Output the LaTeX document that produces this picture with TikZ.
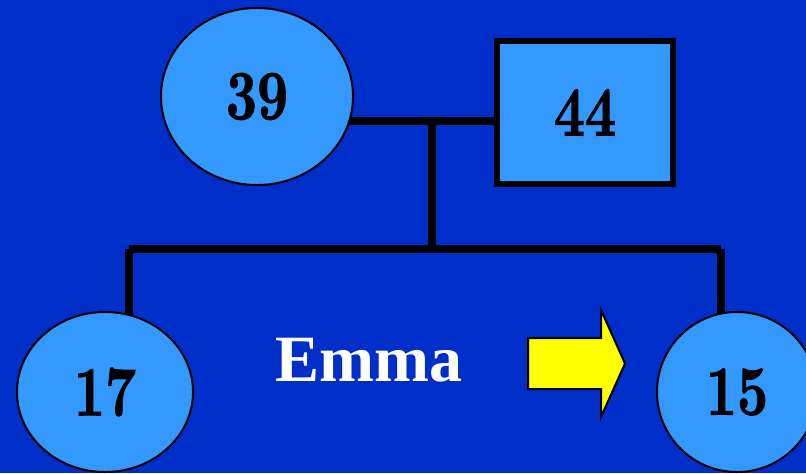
\documentclass[tikz,border=0pt]{standalone}
\usepackage{fontspec}
\usepackage{tikz}
\usetikzlibrary{shapes.geometric}
\usepackage{xcolor}
\newfontfamily\namefont{Liberation Serif}
\newfontfamily\agefont{lmroman10-bold}[Extension=.otf,FakeBold=1.5]

\definecolor{slideblue}{RGB}{0,46,200}
\definecolor{personblue}{RGB}{51,153,255}
\definecolor{pointyellow}{RGB}{255,255,0}

\pgfdeclarelayer{backdrop}
\pgfdeclarelayer{links}
\pgfsetlayers{backdrop,links,main}

\newcommand{\age}[1]{\scalebox{0.77}[1]{\fontsize{50}{50}\agefont #1}}

\begin{document}
\begin{tikzpicture}[x=0.025cm,y=-0.025cm,line cap=butt,
  female/.style={ellipse,draw=black,line width=0.05cm,fill=personblue,inner sep=0pt},
  male/.style={rectangle,draw=black,line width=0.15cm,fill=personblue,inner sep=0pt},
  link/.style={draw=black,line width=0.2cm}]
\useasboundingbox (0,0) rectangle (806,473);
\begin{pgfonlayer}{backdrop}
\fill[slideblue] (0,0) rectangle (806,473);
\end{pgfonlayer}
\clip (0,0) rectangle (806,473);

% parents
\node[female,minimum width=4.8cm,minimum height=4.425cm] (mother) at (257,96.5) {\age{39}};
\node[male,minimum width=4.4cm,minimum height=3.575cm] (father) at (585,112.5) {\age{44}};
% children
\node[female,minimum width=4.4cm,minimum height=4cm] (sister) at (105,392) {\age{17}};
\node[female,minimum width=4cm,minimum height=4cm] (emma) at (737,392) {\age{15}};

\coordinate (couple) at (432,121);
\coordinate (sibs) at (432,249);
\coordinate (sibL) at (129,249);
\coordinate (sibR) at (721,249);

\begin{pgfonlayer}{links}
\draw[link] (mother.center |- couple) -- (father.center |- couple);
\draw[link] (couple) -- (sibs);
\draw[link] (sibL) -- (sibR);
\draw[link] (sibL) -- (sibL |- sister.center);
\draw[link] (sibR) -- (sibR |- emma.center);
\end{pgfonlayer}

\node[anchor=base,text=white,inner sep=0pt] (name) at (369,381) {\fontsize{47}{47}\selectfont\namefont\bfseries Emma};

% pointer to Emma
\draw[fill=pointyellow,line width=0.05cm,line join=miter]
  (528,338) -- (601,338) -- (601,310) -- (625,363.5) -- (601,417) -- (601,389) -- (528,389) -- cycle;
\end{tikzpicture}
\end{document}
